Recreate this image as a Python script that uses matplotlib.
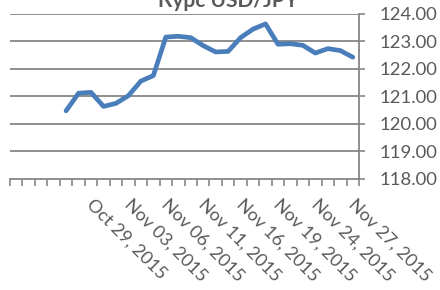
import matplotlib.pyplot as plt
import matplotlib.transforms as mtransforms
import numpy as np

plt.rcParams['font.family'] = ['Lato', 'DejaVu Sans']

# business days, Oct 21 - Nov 27 2015
days = ["Oct 21", "Oct 22", "Oct 23", "Oct 26", "Oct 27", "Oct 28", "Oct 29", "Oct 30",
        "Nov 02", "Nov 03", "Nov 04", "Nov 05", "Nov 06", "Nov 09", "Nov 10", "Nov 11",
        "Nov 12", "Nov 13", "Nov 16", "Nov 17", "Nov 18", "Nov 19", "Nov 20", "Nov 23",
        "Nov 24", "Nov 25", "Nov 26", "Nov 27"]
# no data for the first four days
rate = [np.nan, np.nan, np.nan, np.nan,
        120.48, 121.12, 121.15, 120.64, 120.75, 121.03, 121.56, 121.76,
        123.16, 123.19, 123.14, 122.85, 122.62, 122.64, 123.14, 123.45,
        123.64, 122.90, 122.92, 122.86, 122.58, 122.74, 122.67, 122.43]
label_idx = [6, 9, 12, 15, 18, 21, 24, 27]
y_ticks = [118, 119, 120, 121, 122, 123, 124]

grey = '#868686'
txt = '#595959'

fig = plt.figure(figsize=(4.4, 2.9), dpi=100)
ax = fig.add_axes([10 / 440, 1 - 179 / 290, 349 / 440, 165 / 290])

x = np.arange(len(days))
ax.plot(x, rate, color='#4a7ebb', lw=3.4, solid_capstyle='round', solid_joinstyle='round', zorder=3)

ax.set_xlim(-0.5, len(days) - 0.5)
ax.set_ylim(118, 124)

ax.yaxis.tick_right()
ax.set_yticks(y_ticks)
ax.set_yticklabels(['%.2f' % v for v in y_ticks], fontsize=13.3, color=txt)
ax.tick_params(axis='y', length=4.5, width=1.2, color=grey, pad=10)
for v in y_ticks[1:]:
    ax.axhline(v, color=grey, lw=1.3, zorder=1)

ax.set_xticks(np.arange(-0.5, len(days)), minor=True)
ax.tick_params(axis='x', which='minor', direction='out', length=5, width=1.2, color=grey)
ax.set_xticks(label_idx)
ax.set_xticklabels([days[i] + ", 2015" for i in label_idx], fontsize=13, color=txt,
                   rotation=-45, ha='left', va='top', rotation_mode='anchor')
ax.tick_params(axis='x', which='major', length=0, pad=12)
shift = mtransforms.ScaledTranslation(4 / 100, 0, fig.dpi_scale_trans)
for lab in ax.get_xticklabels():
    lab.set_transform(lab.get_transform() + shift)

for s in ['top', 'left']:
    ax.spines[s].set_visible(False)
for s in ['right', 'bottom']:
    ax.spines[s].set_color(grey)
    ax.spines[s].set_linewidth(1.3)

fig.text(0.518, 1 - 7 / 290, "Курс USD/JPY", fontsize=15, fontweight='bold', color=txt,
         ha='center', va='baseline')

fig.savefig('out.png', dpi=100)
